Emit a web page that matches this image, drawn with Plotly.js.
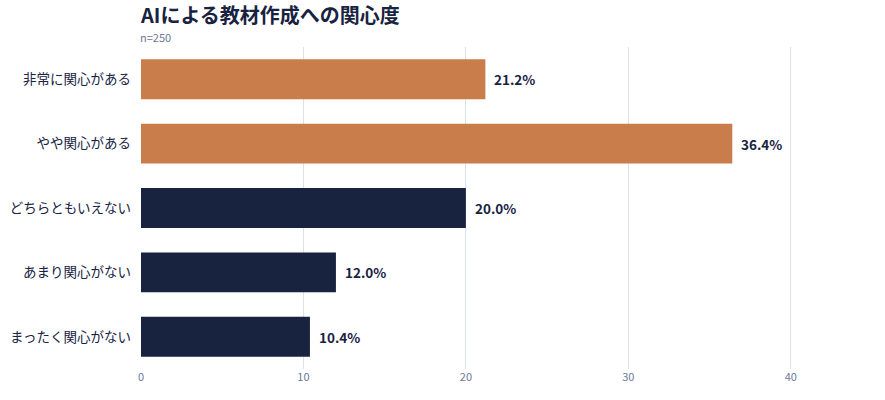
<!DOCTYPE html>
<html><head><meta charset="utf-8">
<script src="https://cdn.plot.ly/plotly-3.0.1.min.js"></script>
<style>html,body{margin:0;padding:0;background:#fff}#chart{width:885px;height:400px}</style>
</head><body><div id="chart"></div>
<script>
const categories = ["非常に関心がある","やや関心がある","どちらともいえない","あまり関心がない","まったく関心がない"];
const values = [21.2, 36.4, 20.0, 12.0, 10.4];
const barColors = ["#C87D4B","#C87D4B","#18233F","#18233F","#18233F"];
const tickVals = [0,10,20,30,40];
const titleText = "AIによる教材作成への関心度";
const subtitleText = "n=250";

const font = "'Noto Sans CJK JP', 'Noto Sans', sans-serif";
const labelAnnotations = values.map((v, i) => ({
  x: v, y: categories[i], xref: "x", yref: "y", xanchor: "left", yanchor: "middle",
  xshift: 7, showarrow: false, text: v.toFixed(1) + "%",
  font: {family: font, size: 13.5, color: "#18233F", weight: 700}
}));
Plotly.newPlot("chart", [{
  type: "bar",
  orientation: "h",
  y: categories,
  x: values,
  marker: {color: barColors},
  width: 0.62,
  hoverinfo: "none"
}], {
  width: 885, height: 400,
  margin: {l: 141, r: 13, t: 47, b: 31},
  paper_bgcolor: "#fff", plot_bgcolor: "#fff",
  font: {family: font},
  title: {text: titleText, x: 141/885, xanchor: "left", y: 1 - 16/400, yanchor: "middle",
          font: {family: font, size: 20, color: "#18233F", weight: 700}},
  annotations: [{text: subtitleText, xref: "paper", yref: "paper", x: 0, y: 1, xanchor: "left", yanchor: "middle",
                 yshift: 10, xshift: -3, showarrow: false, font: {family: font, size: 11, color: "#6B7A99"}}].concat(labelAnnotations),
  xaxis: {range: [0, 45], tickvals: tickVals, showgrid: true, gridcolor: "#DDE1E8", gridwidth: 1,
          zeroline: false, showline: false, ticks: "", tickfont: {family: font, size: 11, color: "#6B7A99"}},
  yaxis: {autorange: "reversed", showgrid: false, zeroline: false, showline: false, ticks: "",
          ticksuffix: "   ", tickfont: {family: font, size: 13.5, color: "#18233F"}},
  showlegend: false
}, {displayModeBar: false, staticPlot: true});
</script></body></html>
